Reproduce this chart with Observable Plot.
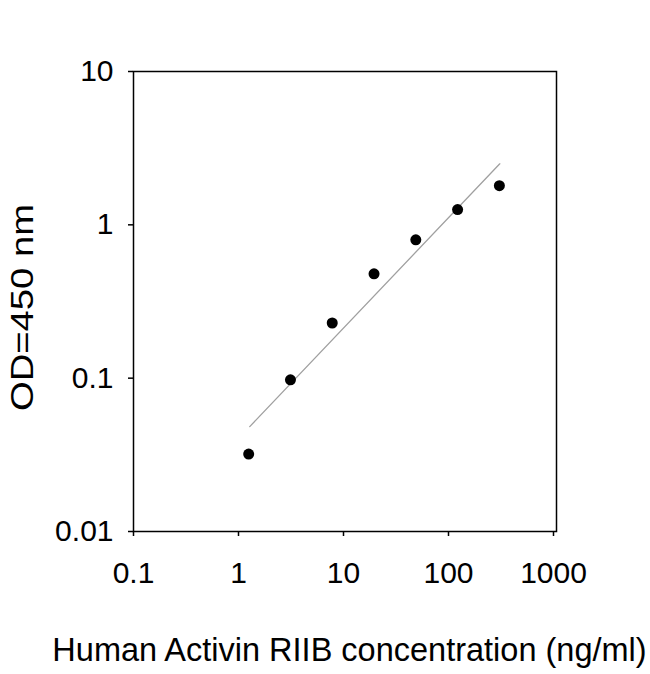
<!DOCTYPE html>
<html>
<head>
<meta charset="utf-8">
<script src="https://cdn.jsdelivr.net/npm/d3@7"></script>
<script src="https://cdn.jsdelivr.net/npm/@observablehq/plot@0.6"></script>
<style>
  html, body { margin: 0; padding: 0; background: #fff; }
  #chart svg { display: block; }
</style>
</head>
<body>
<div id="chart"></div>
<script>
const conc = [1.25, 3.125, 7.81, 19.53, 48.83, 122.07, 305.18];
const od = [0.032, 0.0975, 0.229, 0.479, 0.798, 1.258, 1.80];
const fitConc = [1.28, 308];
const fitOd = [0.0483, 2.50];
const xTicks = [0.1, 1, 10, 100, 1000];
const xTickLabels = ["0.1", "1", "10", "100", "1000"];
const yTicks = [0.01, 0.1, 1, 10];
const yTickLabels = ["0.01", "0.1", "1", "10"];
const xLabel = "Human Activin RIIB concentration (ng/ml)";
const yLabel = "OD=450 nm";

const points = conc.map((c, i) => ({conc: c, od: od[i]}));
const fit = fitConc.map((c, i) => ({conc: c, od: fitOd[i]}));

const font = "'Liberation Sans', Arial, sans-serif";

const chart = Plot.plot({
  width: 650,
  height: 674,
  marginLeft: 133,
  marginRight: 97,
  marginTop: 71,
  marginBottom: 143,
  style: {fontFamily: font, color: "#000", background: "#fff"},
  x: {type: "log", domain: [0.1, 1000]},
  y: {type: "log", domain: [0.01, 10]},
  marks: [
    Plot.frame({stroke: "#000", strokeWidth: 1.5, insetRight: -3}),
    Plot.axisX({ticks: xTicks, tickFormat: d => xTickLabels[xTicks.indexOf(d)], tickSize: 5, tickPadding: 25, fontSize: 30, strokeWidth: 1.5, label: null}),
    Plot.axisY({ticks: yTicks, tickFormat: d => yTickLabels[yTicks.indexOf(d)], tickSize: 5, tickPadding: 15, fontSize: 30, strokeWidth: 1.5, label: null}),
    Plot.line(fit, {x: "conc", y: "od", stroke: "#a0a0a0", strokeWidth: 1.3}),
    Plot.dot(points, {x: "conc", y: "od", r: 5.5, fill: "#000", stroke: "none"}),
    Plot.text([xLabel], {frameAnchor: "bottom", textAnchor: "middle", lineAnchor: "middle", dx: 6, dy: 119, fontSize: 32.5, fill: "#000"}),
    Plot.text([yLabel], {frameAnchor: "left", textAnchor: "middle", lineAnchor: "middle", rotate: -90, dx: -111, dy: 6, fontSize: 32, fill: "#000", className: "ylab"})
  ]
});
d3.select(chart).selectAll(".ylab text")
  .attr("textLength", 207)
  .attr("lengthAdjust", "spacingAndGlyphs");
document.getElementById("chart").appendChild(chart);
</script>
</body>
</html>
